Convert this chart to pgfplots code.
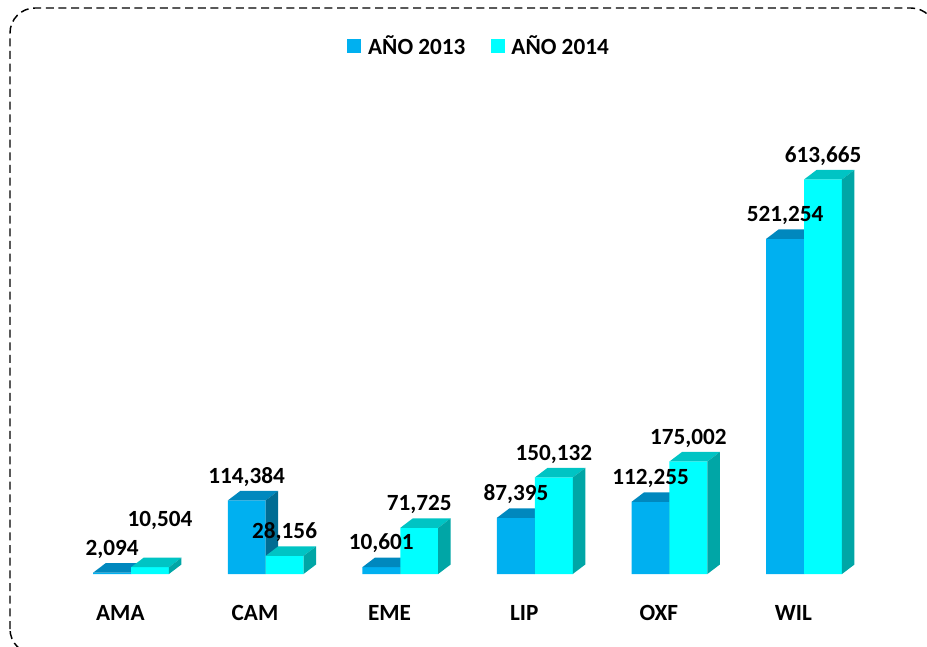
\documentclass[border=0pt]{standalone}
\usepackage{pgfplots}
\pgfplotsset{compat=1.18}
\usepackage{fontspec}
\setmainfont{Carlito}
\definecolor{frontA}{HTML}{00B0F0}
\definecolor{topA}{HTML}{0088BE}
\definecolor{sideA}{HTML}{006C93}
\definecolor{frontB}{HTML}{00FFFF}
\definecolor{topB}{HTML}{00C4C4}
\definecolor{sideB}{HTML}{00A6A6}
\newcommand\lbl{\fontsize{17.4}{20}\selectfont\bfseries}
% 3D faces of a bar: #1 x left, #2 x right, #3 value, #4 top colour, #5 side colour
\newcommand\faces[5]{%
  \fill[#4] (axis cs:#1,#3) -- ([shift={(9.375pt,7.125pt)}]axis cs:#1,#3)
     -- ([shift={(9.375pt,7.125pt)}]axis cs:#2,#3) -- (axis cs:#2,#3) -- cycle;
  \fill[#5] (axis cs:#2,0) -- ([shift={(9.375pt,7.125pt)}]axis cs:#2,0)
     -- ([shift={(9.375pt,7.125pt)}]axis cs:#2,#3) -- (axis cs:#2,#3) -- cycle;
}
\begin{document}
\begin{tikzpicture}
\useasboundingbox (0,0) rectangle (695.25pt,484.5pt);
\draw[line width=1.1pt, dash pattern=on 6pt off 3.5pt, rounded corners=18.75pt]
  (7.5pt,-6pt) rectangle (702pt,478.5pt);
\begin{axis}[
  at={(7.425pt,54pt)}, anchor=south west,
  scale only axis, width=686.5pt, height=424.35pt,
  xmin=-0.9, xmax=5.9, ymin=0, ymax=880000,
  axis line style={draw=none},
  ytick=\empty,
  xtick={0,1,2,3,4,5},
  xticklabels={AMA,CAM,EME,LIP,OXF,WIL},
  major tick length=0pt,
  xticklabel style={font=\lbl, anchor=base, yshift=-34.8pt, xshift=-8pt},
  clip=false,
  legend style={draw=none, fill=none, at={(0.513,0.933)}, anchor=center,
    legend columns=2, font=\lbl,
    /tikz/every odd column/.append style={column sep=3pt},
    /tikz/every even column/.append style={column sep=17pt},
    legend cell align=left},
  legend image code/.code={\fill[#1] (-2pt,-5.25pt) rectangle (8.5pt,5.25pt);},
]
\addplot[ybar, bar width=0.2815, bar shift=-0.14075, fill=frontA, draw=none]
  coordinates {(0,2094) (1,114384) (2,10601) (3,87395) (4,112255) (5,521254)};
\addlegendentry{AÑO 2013}
\faces{-0.2815}{0}{2094}{topA}{sideA}
\faces{0.7185}{1}{114384}{topA}{sideA}
\faces{1.7185}{2}{10601}{topA}{sideA}
\faces{2.7185}{3}{87395}{topA}{sideA}
\faces{3.7185}{4}{112255}{topA}{sideA}
\faces{4.7185}{5}{521254}{topA}{sideA}
\addplot[ybar, bar width=0.2815, bar shift=0.14075, fill=frontB, draw=none]
  coordinates {(0,10504) (1,28156) (2,71725) (3,150132) (4,175002) (5,613665)};
\addlegendentry{AÑO 2014}
\faces{0}{0.2815}{10504}{topB}{sideB}
\faces{1}{1.2815}{28156}{topB}{sideB}
\faces{2}{2.2815}{71725}{topB}{sideB}
\faces{3}{3.2815}{150132}{topB}{sideB}
\faces{4}{4.2815}{175002}{topB}{sideB}
\faces{5}{5.2815}{613665}{topB}{sideB}
% data labels
\begin{scope}[every node/.style={font=\lbl, anchor=base, inner sep=0pt}]
\node at ([yshift=12.9pt]axis cs:-0.14075,2094) {2,094};
\node at ([yshift=30.7pt,xshift=7.5pt]axis cs:0.14075,10504) {10,504};
\node at ([yshift=12.9pt]axis cs:0.85925,114384) {114,384};
\node at ([yshift=12.9pt]axis cs:1.14075,28156) {28,156};
\node at ([yshift=12.9pt]axis cs:1.85925,10601) {10,601};
\node at ([yshift=12.9pt]axis cs:2.14075,71725) {71,725};
\node at ([yshift=12.9pt]axis cs:2.85925,87395) {87,395};
\node at ([yshift=12.9pt]axis cs:3.14075,150132) {150,132};
\node at ([yshift=12.9pt]axis cs:3.85925,112255) {112,255};
\node at ([yshift=12.9pt]axis cs:4.14075,175002) {175,002};
\node at ([yshift=12.9pt]axis cs:4.85925,521254) {521,254};
\node at ([yshift=12.9pt]axis cs:5.14075,613665) {613,665};
\end{scope}
\end{axis}
\end{tikzpicture}
\end{document}
